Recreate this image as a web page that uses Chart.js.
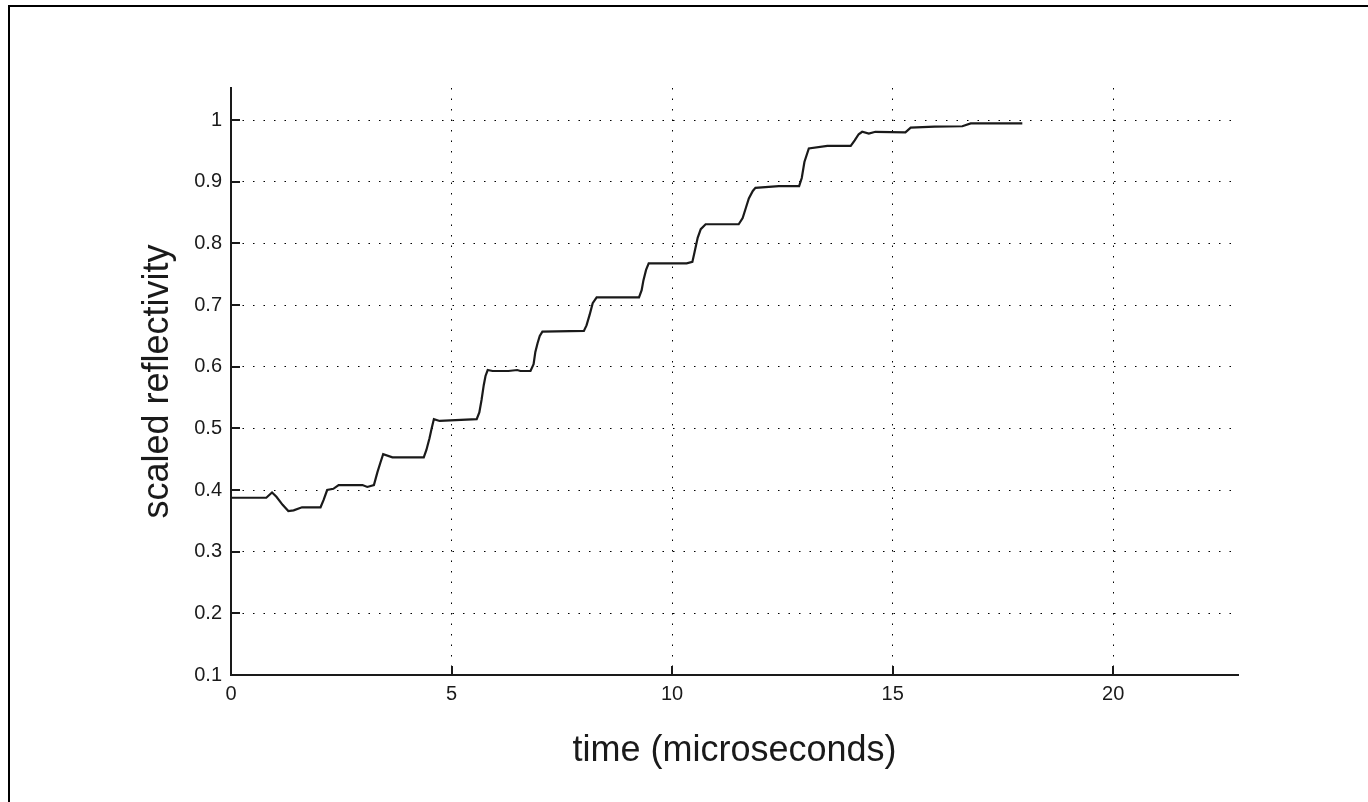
<!DOCTYPE html>
<html><head><meta charset="utf-8">
<script src="https://cdn.jsdelivr.net/npm/chart.js@4.4.1/dist/chart.umd.min.js"></script>
<style>
html,body{margin:0;padding:0;background:#fff;overflow:hidden;}
#wrap{position:relative;width:1368px;height:802px;overflow:hidden;}
#frame{position:absolute;left:8px;top:5px;width:1400px;height:900px;border-left:2.5px solid #000;border-top:2.5px solid #000;pointer-events:none;}
canvas{position:absolute;left:0;top:0;}
</style></head><body>
<div id="wrap"><canvas id="c" width="1368" height="802"></canvas><div id="frame"></div></div>
<script>
// ---- data ----
const timeUs = [0, 0.80, 0.93, 1.03, 1.17, 1.30, 1.42, 1.61, 2.03, 2.10, 2.18, 2.32, 2.44, 2.98, 3.09, 3.24, 3.32, 3.39, 3.45, 3.66,
  4.37, 4.43, 4.50, 4.55, 4.60, 4.73, 5.57, 5.63, 5.68, 5.73, 5.77, 5.82, 5.93, 6.29, 6.49, 6.56, 6.79, 6.86, 6.90, 6.95,
  7.00, 7.06, 8.00, 8.06, 8.13, 8.20, 8.29, 9.25, 9.31, 9.35, 9.41, 9.47, 10.33, 10.46, 10.51, 10.58, 10.65, 10.76, 11.51, 11.60,
  11.67, 11.74, 11.83, 11.89, 12.42, 12.88, 12.94, 13.00, 13.10, 13.52, 14.05, 14.14, 14.23, 14.31, 14.46, 14.61, 15.29, 15.41, 15.95, 16.58,
  16.77, 17.94];
const reflectivity = [0.3875, 0.3875, 0.396, 0.389, 0.376, 0.366, 0.367, 0.372, 0.372, 0.384, 0.400, 0.402, 0.408, 0.408, 0.405, 0.408, 0.429, 0.445, 0.458, 0.453,
  0.453, 0.465, 0.484, 0.500, 0.515, 0.512, 0.515, 0.526, 0.546, 0.570, 0.585, 0.5946, 0.593, 0.593, 0.5946, 0.593, 0.593, 0.604, 0.624, 0.638,
  0.650, 0.657, 0.658, 0.667, 0.684, 0.703, 0.7125, 0.7125, 0.724, 0.740, 0.757, 0.7676, 0.7676, 0.770, 0.786, 0.809, 0.823, 0.831, 0.831, 0.841,
  0.857, 0.873, 0.885, 0.890, 0.893, 0.893, 0.906, 0.932, 0.954, 0.958, 0.958, 0.967, 0.977, 0.981, 0.978, 0.981, 0.980, 0.9878, 0.9895, 0.990,
  0.9946, 0.9946];
const xTickValues = [0, 5, 10, 15, 20];
const yTickValues = [0.1, 0.2, 0.3, 0.4, 0.5, 0.6, 0.7, 0.8, 0.9, 1];
const xTitle = 'time (microseconds)';
const yTitle = 'scaled reflectivity';

const points = timeUs.map((t, i) => ({x: t, y: reflectivity[i]}));
const FONT = '"Liberation Sans", Arial, Helvetica, sans-serif';
const INK = '#1a1a1a';

const innerTicks = {
  id: 'innerTicks',
  afterDraw(chart) {
    const {ctx, scales: {x, y}} = chart;
    const a = chart.chartArea;
    ctx.save();
    ctx.strokeStyle = INK;
    ctx.lineWidth = 2;
    ctx.beginPath();
    y.ticks.forEach(t => {
      const p = Math.round(y.getPixelForValue(t.value));
      ctx.moveTo(a.left, p); ctx.lineTo(a.left + 9, p);
    });
    x.ticks.forEach(t => {
      const p = Math.round(x.getPixelForValue(t.value));
      ctx.moveTo(p, a.bottom); ctx.lineTo(p, a.bottom - 9);
    });
    ctx.stroke();
    ctx.restore();
  }
};

new Chart(document.getElementById('c'), {
  type: 'line',
  data: {
    datasets: [{
      data: points,
      borderColor: INK,
      borderWidth: 2.2,
      pointRadius: 0,
      tension: 0,
      fill: false
    }]
  },
  options: {
    responsive: false,
    devicePixelRatio: 1,
    animation: false,
    events: [],
    layout: {padding: {left: 0, right: 130, top: 88, bottom: 0}},
    plugins: {legend: {display: false}, tooltip: {enabled: false}},
    scales: {
      x: {
        type: 'linear',
        min: 0, max: 22.83,
        afterBuildTicks: s => { s.ticks = xTickValues.map(v => ({value: v})); },
        afterFit: s => { s.height = 127; },
        grid: {display: true, color: '#000', lineWidth: 1, drawTicks: false},
        border: {display: true, color: INK, width: 2, dash: [1.5, 9]},
        ticks: {color: INK, font: {family: FONT, size: 20}, padding: 7, maxRotation: 0, callback: v => String(v)},
        title: {display: true, text: xTitle, color: INK, font: {family: FONT, size: 36}, padding: {top: 0, bottom: 29}}
      },
      y: {
        type: 'linear',
        min: 0.1, max: 1.052,
        afterBuildTicks: s => { s.ticks = yTickValues.map(v => ({value: v})); },
        afterFit: s => { s.width = 231; },
        grid: {display: true, color: '#000', lineWidth: 1, drawTicks: false},
        border: {display: true, color: INK, width: 2, dash: [1.5, 9]},
        ticks: {color: INK, font: {family: FONT, size: 20}, padding: 9, callback: v => String(Math.round(v * 10) / 10)},
        title: {display: true, text: yTitle, color: INK, font: {family: FONT, size: 36}, padding: {top: 136, bottom: 0}}
      }
    }
  },
  plugins: [innerTicks]
});
</script>
</body></html>
